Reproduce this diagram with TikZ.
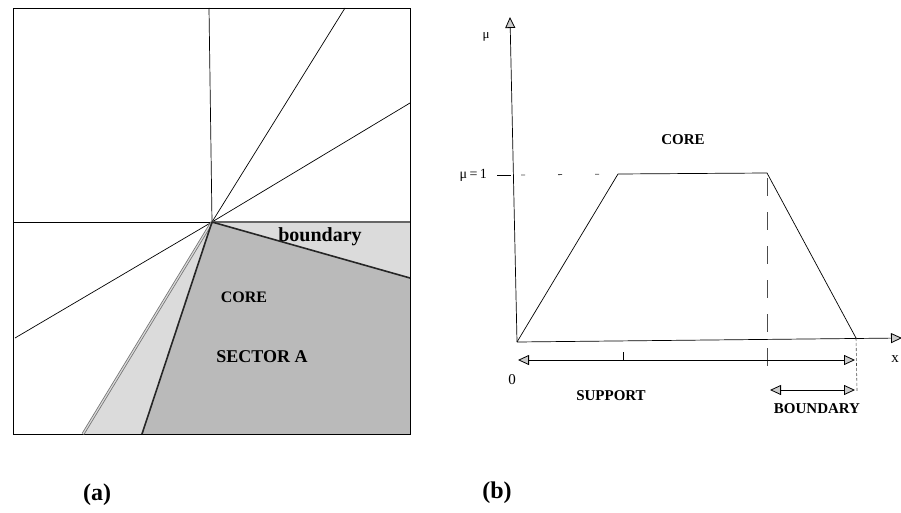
\documentclass[tikz,border=0pt]{standalone}
\usepackage{fontspec}
\setmainfont{Liberation Serif}
\usetikzlibrary{arrows.meta}
\tikzset{
  thin line/.style={draw=black, line width=0.7pt},
  heavy line/.style={draw=black!85, line width=1.6pt},
  bound fill/.style={fill=black!14},
  core fill/.style={fill=black!27},
  lbl/.style={font=\bfseries\fontsize{16}{16}\selectfont, inner sep=0pt},
  plbl/.style={font=\bfseries\fontsize{15}{15}\selectfont, inner sep=0pt},
  axlbl/.style={font=\fontsize{14}{14}\selectfont, inner sep=0pt},
  captext/.style={font=\bfseries\fontsize{24}{24}\selectfont, inner sep=0pt},
  tip/.tip={Triangle[length=11pt,width=10pt,fill=black!20,line width=0.8pt]},
  tri/.style={-tip},
  ttri/.style={tip-tip},
  guide/.style={draw=black!70, line width=0.6pt, dash pattern=on 18pt off 16pt},
  sparse/.style={draw=black!70, line width=0.8pt, dash pattern=on 4pt off 33pt}
}
\begin{document}
\begin{tikzpicture}[x=1pt,y=-1pt]
\useasboundingbox (0,0) rectangle (901,513);
% ---------- panel (a) ----------
\coordinate (C) at (212,222);
\coordinate (BL) at (13,434);
\coordinate (BR) at (410,434);
\coordinate (TR) at (410,8);
\coordinate (TL) at (13,8);
\coordinate (R0) at (410,222);
\coordinate (R1) at (410,278);
\coordinate (B1) at (142,434);
\coordinate (B2) at (83,434);
% shaded regions
\path[bound fill] (C) -- (R0) -- (R1) -- cycle;
\path[core fill] (C) -- (R1) -- (BR) -- (B1) -- cycle;
\path[bound fill] (C) -- (B1) -- (B2) -- cycle;
% frame
\draw[thin line] (TL) rectangle (BR);
% lines through the centre
\draw[thin line] (C) -- (209,8);
\draw[thin line] (C) -- (13,222);
\draw[thin line] (C) -- (345,8);
\draw[thin line] (C) -- (410,103);
\draw[thin line] (C) -- (15,338);
\draw[draw=black!60, line width=2.2pt] (C) -- (R0);
\draw[draw=black!55, double=black!15, line width=0.8pt, double distance=1.2pt] (C) -- (B2);
\draw[heavy line] (C) -- (B1);
\draw[heavy line] (C) -- (R1);
\node[lbl, font=\bfseries\fontsize{20}{20}\selectfont] (bnd) at (320,237) {boundary};
\node[lbl] (corea) at (244,297) {CORE};
\node[lbl, font=\bfseries\fontsize{18}{18}\selectfont] (sect) at (262,357) {SECTOR A};
% ---------- panel (b) ----------
\coordinate (O) at (517,342);
\coordinate (Ytop) at (510,17);
\coordinate (Xend) at (902,338);
\coordinate (P1) at (618,174);
\coordinate (P2) at (767,173);
\coordinate (P3) at (856,338);
\draw[thin line, tri] (O) -- (Ytop);
\draw[thin line, tri] (O) -- (Xend);
\draw[thin line] (O) -- (P1) -- (P2) -- (P3);
\node[axlbl, font=\fontsize{13}{13}\selectfont] (mu) at (486,37) {μ};
\node[axlbl, anchor=east] (mu1) at (487,175) {μ\,=\,1};
\coordinate (T0) at (497,175);
\coordinate (T1) at (511,175);
\draw[thin line] (T0) -- (T1);
\draw[sparse] (521,175) -- (P1);
\node[axlbl, font=\fontsize{15}{15}\selectfont] (zero) at (512,380) {0};
\node[axlbl, font=\fontsize{15}{15}\selectfont] (xl) at (895,359) {x};
\node[plbl] (coreb) at (683,140) {CORE};
% guides
\draw[guide] (767,178) -- (767,374);
\draw[draw=black!70, line width=0.6pt, dash pattern=on 3pt off 2pt] (P3) -- (857,391);
% support arrow
\coordinate (S0) at (518,360);
\coordinate (S1) at (855,360);
\draw[thin line, ttri] (S0) -- (S1);
\draw[thin line] (623,352) -- (623,360);
\node[plbl] (supp) at (611,396) {SUPPORT};
% boundary arrow
\coordinate (Q0) at (770,390);
\coordinate (Q1) at (855,390);
\draw[thin line, ttri] (Q0) -- (Q1);
\node[plbl] (bndb) at (817,409) {BOUNDARY};
% captions
\node[captext] (capa) at (97,495) {(a)};
\node[captext] (capb) at (497,493) {(b)};
\end{tikzpicture}
\end{document}
